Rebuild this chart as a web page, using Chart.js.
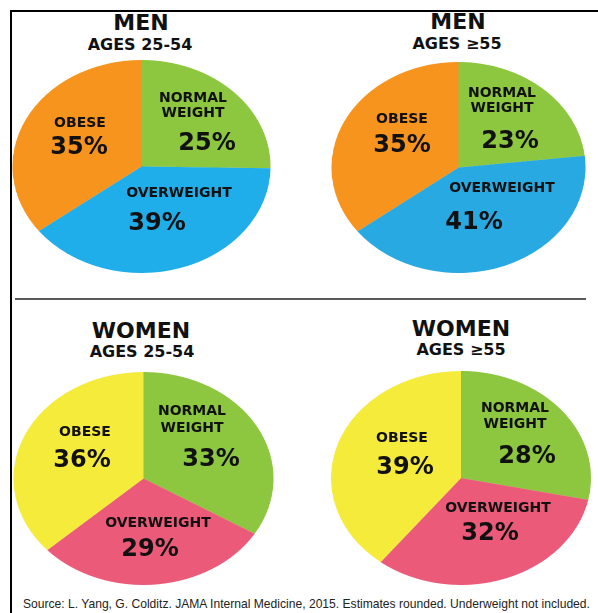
<!DOCTYPE html>
<html>
<head>
<meta charset="utf-8">
<script src="https://cdn.jsdelivr.net/npm/chart.js@4.4.1/dist/chart.umd.min.js"></script>
<style>
  html, body { margin: 0; padding: 0; background: #fff; }
  #stage { position: relative; width: 598px; height: 613px; overflow: hidden; }
  .frame-top { position: absolute; left: 10px; top: 10px; width: 588px; height: 2px; background: #000; }
  .frame-left { position: absolute; left: 10px; top: 10px; width: 2px; height: 603px; background: #000; }
  .sep { position: absolute; left: 15px; top: 298px; width: 571px; height: 2px; background: #5a5a5a; }
  .pie { position: absolute; transform-origin: 50% 50%; }
  .txt {
    position: absolute; white-space: nowrap; transform: translateX(-50%);
    font-family: 'DejaVu Sans', sans-serif; font-weight: bold; color: #111;
  }
  .src { position: absolute; white-space: nowrap; font-family: 'Liberation Sans', Arial, sans-serif; color: #222; }
</style>
</head>
<body>
<div id="stage">
  <div class="frame-top"></div>
  <div class="frame-left"></div>
  <div class="sep"></div>
</div>
<script>
// ── Data ──
const CATEGORIES = ['NORMAL WEIGHT', 'OVERWEIGHT', 'OBESE'];
const GROUPS = ['MEN', 'MEN', 'WOMEN', 'WOMEN'];
const AGES = ['AGES 25-54', 'AGES ≥55', 'AGES 25-54', 'AGES ≥55'];
const MEN_25_54 = [25, 39, 35];
const MEN_55 = [23, 41, 35];
const WOMEN_25_54 = [33, 29, 36];
const WOMEN_55 = [28, 32, 39];
const SOURCE = 'Source: L. Yang, G. Colditz. JAMA Internal Medicine, 2015. Estimates rounded. Underweight not included.';

const SERIES = [MEN_25_54, MEN_55, WOMEN_25_54, WOMEN_55];

// ── Layout (positions only) ──
const COLORS = [
  ['#8DC63F', '#1FAEEA', '#F7941D'],
  ['#8DC63F', '#29A9E1', '#F7941D'],
  ['#8DC63F', '#EB5A79', '#F4EB3A'],
  ['#8DC63F', '#EB5A79', '#F4EB3A']
];
// pie ellipse: cx, cy, rx, ry
const PIES = [
  [141, 166.5, 129, 106.5],
  [458, 167, 127, 105.5],
  [143, 478, 130, 106.5],
  [461, 478, 130, 107]
];
// title: [cx, baseline], ages: [cx, baseline]
const TITLES = [
  [[141, 31], [140, 51]],
  [[458, 30], [457, 50]],
  [[141, 339], [142, 358]],
  [[461, 337], [461, 356]]
];
// per category: [labelX, labelBaseline, pctX, pctBaseline]
const LABELS = [
  [[193, 102, 207, 150], [179, 197, 157, 230], [80, 127, 79, 154]],
  [[502, 97, 510, 148], [502, 192, 474, 229], [402, 123, 402, 152]],
  [[192, 415, 211, 466], [158, 527, 150, 556], [85, 436, 82, 467]],
  [[515, 412, 527, 463], [498, 512, 490, 540], [402, 442, 405, 474]]
];
const LINE_GAP = [14.5, 15, 17, 16];

const stage = document.getElementById('stage');

function addText(str, cx, baseline, size, cls) {
  const el = document.createElement('div');
  el.className = cls || 'txt';
  el.textContent = str;
  el.style.fontSize = size + 'px';
  el.style.lineHeight = size + 'px';
  el.style.left = cx + 'px';
  el.style.top = (baseline - 0.846 * size) + 'px';
  stage.appendChild(el);
  return el;
}

SERIES.forEach((values, i) => {
  const [cx, cy, rx, ry] = PIES[i];
  const box = document.createElement('div');
  box.className = 'pie';
  box.style.left = (cx - ry) + 'px';
  box.style.top = (cy - ry) + 'px';
  box.style.width = (2 * ry) + 'px';
  box.style.height = (2 * ry) + 'px';
  box.style.transform = 'scaleX(' + (rx / ry) + ')';
  const canvas = document.createElement('canvas');
  box.appendChild(canvas);
  stage.appendChild(box);

  new Chart(canvas, {
    type: 'pie',
    data: {
      labels: CATEGORIES,
      datasets: [{ data: values, backgroundColor: COLORS[i], borderWidth: 0 }]
    },
    options: {
      responsive: true, maintainAspectRatio: false,
      devicePixelRatio: 2,
      animation: false, events: [],
      layout: { padding: 0 },
      plugins: { legend: { display: false }, tooltip: { enabled: false } }
    }
  });

  // titles
  addText(GROUPS[i], TITLES[i][0][0], TITLES[i][0][1], 22);
  addText(AGES[i], TITLES[i][1][0], TITLES[i][1][1], 16);

  // slice labels
  CATEGORIES.forEach((cat, j) => {
    const [lx, ly, px, py] = LABELS[i][j];
    const words = cat === 'NORMAL WEIGHT' ? cat.split(' ') : [cat];
    words.forEach((w, k) => addText(w, lx, ly + k * LINE_GAP[i], 14));
    addText(values[j] + '%', px, py, 24);
  });
});

addText(SOURCE, 23, 608, 12.1, 'src');
</script>
</body>
</html>
